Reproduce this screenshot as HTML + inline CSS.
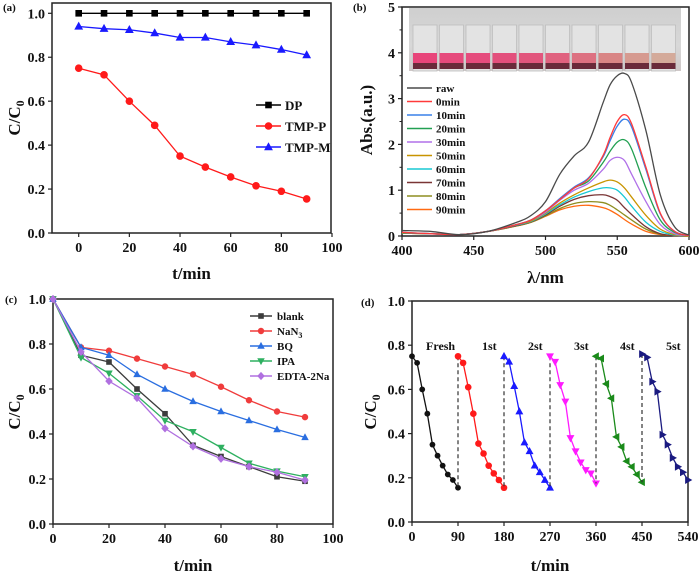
<!DOCTYPE html>
<html><head><meta charset="utf-8"><style>
html,body{margin:0;padding:0;background:#fff;}
svg{display:block;font-family:"Liberation Serif",serif;font-weight:bold;}
</style></head><body>
<svg id="fig" width="700" height="577" viewBox="0 0 700 577">
<defs>
<linearGradient id="photoBg" x1="0" y1="0" x2="0" y2="1">
<stop offset="0" stop-color="#cfcfcf"/><stop offset="0.6" stop-color="#d8d8d8"/><stop offset="1" stop-color="#cfc8c8"/>
</linearGradient>
</defs>
</svg>
<script>
// ---------- data ----------
const aTimes=[0,10,20,30,40,50,60,70,80,90];
const aDP=[1,1,1,1,1,1,1,1,1,1];
const aTMPP=[0.75,0.72,0.60,0.49,0.35,0.30,0.255,0.215,0.19,0.155];
const aTMPM=[0.94,0.93,0.925,0.91,0.89,0.89,0.87,0.855,0.835,0.81];
const aXTicks=[0,20,40,60,80,100];
const yTicks01=[0,0.2,0.4,0.6,0.8,1.0];

const bWave=[400,420,440,460,480,490,500,510,520,530,540,545,550,555,560,570,580,590,600];
const bRaw=[0.12,0.1,0.03,0.1,0.3,0.45,0.75,1.35,1.75,2.05,2.9,3.3,3.5,3.55,3.35,2.3,0.9,0.2,0.02];
const b0=[0.08,0.05,0.03,0.1,0.25,0.35,0.55,0.8,1.05,1.25,1.75,2.15,2.5,2.65,2.45,1.5,0.5,0.1,0.01];
const b10=[0.08,0.05,0.03,0.1,0.25,0.35,0.55,0.82,1.07,1.27,1.72,2.08,2.4,2.55,2.38,1.45,0.48,0.1,0.01];
const b20=[0.07,0.05,0.03,0.1,0.25,0.35,0.55,0.8,1.05,1.2,1.6,1.85,2.05,2.1,1.9,1.05,0.35,0.08,0.01];
const b30=[0.07,0.05,0.03,0.1,0.25,0.35,0.52,0.78,1.0,1.15,1.45,1.65,1.72,1.65,1.35,0.75,0.25,0.05,0.01];
const b50=[0.06,0.05,0.03,0.1,0.25,0.33,0.5,0.72,0.9,1.05,1.18,1.22,1.18,1.05,0.85,0.45,0.15,0.03,0];
const b60=[0.06,0.05,0.03,0.1,0.24,0.32,0.48,0.68,0.85,0.97,1.05,1.05,1.0,0.85,0.65,0.3,0.1,0.02,0];
const b70=[0.06,0.05,0.03,0.1,0.23,0.31,0.46,0.65,0.8,0.88,0.9,0.86,0.78,0.62,0.47,0.2,0.05,0.01,0];
const b80=[0.06,0.05,0.03,0.1,0.22,0.3,0.44,0.6,0.71,0.75,0.73,0.67,0.57,0.46,0.35,0.15,0.04,0.01,0];
const b90=[0.06,0.05,0.03,0.1,0.22,0.3,0.43,0.57,0.65,0.67,0.62,0.56,0.47,0.36,0.26,0.1,0.03,0.01,0];
const bXTicks=[400,450,500,550,600];
const bYTicks=[0,1,2,3,4,5];

const cTimes=[0,10,20,30,40,50,60,70,80,90];
const cBlank=[1,0.75,0.72,0.60,0.49,0.35,0.30,0.255,0.21,0.19];
const cNaN3=[1,0.785,0.77,0.735,0.70,0.665,0.61,0.55,0.50,0.475];
const cBQ=[1,0.785,0.75,0.665,0.60,0.545,0.50,0.46,0.42,0.385];
const cIPA=[1,0.74,0.67,0.57,0.46,0.41,0.34,0.27,0.235,0.21];
const cEDTA=[1,0.765,0.635,0.56,0.425,0.345,0.29,0.255,0.23,0.195];

const dStep=[0,10,20,30,40,50,60,70,80,90];
const dFresh=[0.75,0.72,0.60,0.49,0.35,0.30,0.255,0.215,0.19,0.155];
const d1st=[0.75,0.72,0.61,0.49,0.355,0.31,0.255,0.22,0.19,0.155];
const d2st=[0.75,0.725,0.615,0.50,0.36,0.32,0.255,0.225,0.19,0.155];
const d3st=[0.75,0.725,0.62,0.545,0.38,0.32,0.27,0.235,0.22,0.175];
const d4st=[0.75,0.74,0.625,0.56,0.385,0.34,0.275,0.25,0.215,0.18];
const d5st=[0.76,0.745,0.635,0.59,0.395,0.35,0.29,0.25,0.225,0.19];
const dXTicks=[0,90,180,270,360,450,540];

// ---------- helpers ----------
const NS='http://www.w3.org/2000/svg';
const svg=document.getElementById('fig');
function el(tag,attrs,parent,text){const e=document.createElementNS(NS,tag);for(const k in attrs)e.setAttribute(k,attrs[k]);if(text!==undefined)e.textContent=text;(parent||svg).appendChild(e);return e;}
function scale(d0,d1,p0,p1){return v=>p0+(v-d0)/(d1-d0)*(p1-p0);}

function axes(g,box,xs,ys,xt,yt,xfmt,yfmt,xlabel,ylabelNode,name){
  const ax=el('g',{},g);
  
  
  el('rect',{x:box.l,y:box.t,width:box.r-box.l,height:box.b-box.t,fill:'none',stroke:'#222','stroke-width':1.5},ax);
  xt.forEach(v=>{const x=xs(v);
    el('line',{x1:x,y1:box.b,x2:x,y2:box.b+4,stroke:'#222','stroke-width':1.2},ax);
    const t=el('text',{x:x,y:box.b+19,'text-anchor':'middle','font-size':14,fill:'#111'},ax,xfmt(v));
    });
  yt.forEach(v=>{const y=ys(v);
    el('line',{x1:box.l-4,y1:y,x2:box.l,y2:y,stroke:'#222','stroke-width':1.2},ax);
    const t=el('text',{x:box.l-7,y:y+5,'text-anchor':'end','font-size':14,fill:'#111'},ax,yfmt(v));
    });
  const xl=el('text',{x:(box.l+box.r)/2,y:xlabel.y,'text-anchor':'middle','font-size':17,fill:'#111'},ax,xlabel.text);
  
}
function yTitleCC0(g,x,y){
  const t=el('text',{transform:`translate(${x},${y}) rotate(-90)`,'text-anchor':'middle','font-size':17,fill:'#111'},g);
  
  el('tspan',{},t,'C/C');el('tspan',{'font-size':12,dy:4},t,'0');
}
function marker(g,type,x,y,c,s){
  let m;
  if(type==='square')m=el('rect',{x:x-s,y:y-s,width:2*s,height:2*s,fill:c},g);
  else if(type==='circle')m=el('circle',{cx:x,cy:y,r:s,fill:c},g);
  else if(type==='up')m=el('polygon',{points:`${x},${y-s*1.2} ${x-s*1.1},${y+s*0.8} ${x+s*1.1},${y+s*0.8}`,fill:c},g);
  else if(type==='down')m=el('polygon',{points:`${x},${y+s*1.2} ${x-s*1.1},${y-s*0.8} ${x+s*1.1},${y-s*0.8}`,fill:c},g);
  else if(type==='left')m=el('polygon',{points:`${x-s*1.2},${y} ${x+s*0.8},${y-s*1.1} ${x+s*0.8},${y+s*1.1}`,fill:c},g);
  else if(type==='right')m=el('polygon',{points:`${x+s*1.2},${y} ${x-s*0.8},${y-s*1.1} ${x-s*0.8},${y+s*1.1}`,fill:c},g);
  else if(type==='diamond')m=el('polygon',{points:`${x},${y-s*1.2} ${x+s*1.1},${y} ${x},${y+s*1.2} ${x-s*1.1},${y}`,fill:c},g);
  
  
  return m;
}
function series(g,xsArr,ysArr,xs,ys,c,type,s,name,w){
  const sg=el('g',{},g);
  
  
  const pts=xsArr.map((v,i)=>xs(v)+','+ys(ysArr[i])).join(' ');
  el('polyline',{points:pts,fill:'none',stroke:c,'stroke-width':w||1.3},sg);
  xsArr.forEach((v,i)=>marker(sg,type,xs(v),ys(ysArr[i]),c,s));
}
function panelLabel(g,x,y,txt){const t=el('text',{x:x,y:y,'font-size':11,fill:'#111'},g,txt);}
const f1=v=>v.toFixed(1), f0=v=>String(v);

// ---------- panel a ----------
(function(){
  const g=el('g',{});
  const box={l:52,r:331,t:3,b:233};
  const xs=scale(0,100,78.7,332), ys=scale(0,1,233,13.3);
  axes(g,box,xs,ys,aXTicks,yTicks01,f0,f1,{text:'t/min',y:279},null,'panel-a');
  yTitleCC0(g,20,118);
  panelLabel(g,3,11,'(a)');
  series(g,aTimes,aDP,xs,ys,'#000','square',3.3,'series-dp');
  series(g,aTimes,aTMPP,xs,ys,'#ff1a1a','circle',3.8,'series-tmp-p');
  series(g,aTimes,aTMPM,xs,ys,'#1a1aff','up',4,'series-tmp-m');
  const lg=el('g',{},g);
  [['DP','#000','square',3.3],['TMP-P','#ff1a1a','circle',3.8],['TMP-M','#1a1aff','up',4]].forEach((r,i)=>{
    const y=105+i*21;
    const e=el('g',{},lg);
    el('line',{x1:256,y1:y,x2:281,y2:y,stroke:r[1],'stroke-width':1.5},e);
    marker(e,r[2],268.5,y,r[1],r[3]);
    el('text',{x:285,y:y+5,'font-size':13,fill:'#111'},e,r[0]);
  });
})();

// ---------- panel b ----------
(function(){
  const g=el('g',{});
  const box={l:402,r:689,t:7,b:236};
  const xs=scale(400,600,402,689), ys=scale(0,5,236,7);
  // photo
  const ph=el('g',{},g);
  el('rect',{x:409,y:8,width:272,height:63,fill:'url(#photoBg)'},ph);
  const pinks=['#e8457a','#e64a7c','#e54c7d','#e34f7c','#e2567d','#e0627f','#dd7181','#d98585','#d69a90','#d4aa9a'];
  pinks.forEach((c,i)=>{const x=413+i*26.5;
    el('rect',{x:x,y:25,width:24,height:46,fill:'#e3e3e3',stroke:'#bdbdbd','stroke-width':0.8},ph);
    el('rect',{x:x,y:53,width:24,height:10,fill:c},ph);
    el('rect',{x:x,y:63,width:24,height:6,fill:'#6a2a3a'},ph);});
  axes(g,box,xs,ys,bXTicks,bYTicks,f0,f0,{text:'λ/nm',y:283},null,'panel-b');
  // minor y ticks
  [0.5,1.5,2.5,3.5,4.5].forEach(v=>el('line',{x1:box.l-2.5,y1:ys(v),x2:box.l,y2:ys(v),stroke:'#222'},g));
  const yt=el('text',{transform:'translate(372,120) rotate(-90)','text-anchor':'middle','font-size':17,fill:'#111'},g,'Abs.(a.u.)');
  
  panelLabel(g,353,11,'(b)');
  const specs=[['raw',bRaw,'#4a4a4a'],['0min',b0,'#ff3a3a'],['10min',b10,'#3a80e8'],['20min',b20,'#22a052'],['30min',b30,'#b070e8'],['50min',b50,'#c89400'],['60min',b60,'#18c8d4'],['70min',b70,'#7a3535'],['80min',b80,'#8e8e20'],['90min',b90,'#ff6a12']];
  function smooth(xsA,ysA){const p=xsA.map((v,i)=>[xs(v),ys(ysA[i])]);let d='M'+p[0][0]+','+p[0][1];
    for(let i=0;i<p.length-1;i++){const p0=p[i-1]||p[i],p1=p[i],p2=p[i+1],p3=p[i+2]||p2;
      d+=` C${p1[0]+(p2[0]-p0[0])/6},${p1[1]+(p2[1]-p0[1])/6} ${p2[0]-(p3[0]-p1[0])/6},${p2[1]-(p3[1]-p1[1])/6} ${p2[0]},${p2[1]}`;}return d;}
  specs.slice().reverse().forEach(s=>{const p=el('path',{d:smooth(bWave,s[1]),fill:'none',stroke:s[2],'stroke-width':1.3},g);
    });
  const lg=el('g',{},g);
  specs.forEach((s,i)=>{const y=88+i*13.5;
    const e=el('g',{},lg);
    el('line',{x1:407,y1:y,x2:432,y2:y,stroke:s[2],'stroke-width':1.6},e);
    el('text',{x:436,y:y+4,'font-size':11,fill:'#111'},e,s[0]);});
})();

// ---------- panel c ----------
(function(){
  const g=el('g',{});
  const box={l:53,r:333,t:299,b:524};
  const xs=scale(0,100,53,333), ys=scale(0,1,524,299);
  axes(g,box,xs,ys,aXTicks,yTicks01,f0,f1,{text:'t/min',y:571},null,'panel-c');
  yTitleCC0(g,20,412);
  panelLabel(g,5,303,'(c)');
  const S=[['blank',cBlank,'#3c3c3c','square',2.8],['NaN3',cNaN3,'#f03c3c','circle',3.2],['BQ',cBQ,'#2a6ee0','up',3.4],['IPA',cIPA,'#2eb060','down',3.4],['EDTA-2Na',cEDTA,'#b070e0','diamond',3.4]];
  S.forEach(s=>series(g,cTimes,s[1],xs,ys,s[2],s[3],s[4],'series-'+s[0].toLowerCase()));
  const lg=el('g',{},g);
  S.forEach((s,i)=>{const y=316+i*15;
    const e=el('g',{},lg);
    el('line',{x1:250,y1:y,x2:272,y2:y,stroke:s[2],'stroke-width':1.4},e);
    marker(e,s[3],261,y,s[2],s[4]);
    const t=el('text',{x:277,y:y+4,'font-size':11,fill:'#111'},e);
    if(s[0]==='NaN3'){el('tspan',{},t,'NaN');el('tspan',{'font-size':8,dy:3},t,'3');}else t.textContent=s[0];});
})();

// ---------- panel d ----------
(function(){
  const g=el('g',{});
  const box={l:412,r:688,t:301,b:522};
  const xs=scale(0,540,412,688), ys=scale(0,1,522,301);
  axes(g,box,xs,ys,dXTicks,yTicks01,f0,f1,{text:'t/min',y:571},null,'panel-d');
  yTitleCC0(g,376,412);
  panelLabel(g,361,306,'(d)');
  const S=[['Fresh',dFresh,'#111','circle',2.9],['1st',d1st,'#ff1a1a','circle',3.3],['2st',d2st,'#1a1aff','up',3.6],['3st',d3st,'#ff1aff','down',3.6],['4st',d4st,'#1a8a1a','left',3.6],['5st',d5st,'#1a1a80','right',3.6]];
  S.forEach((s,k)=>{const off=k*90;const tx=dStep.map(v=>v+off);
    if(k>0){const dl=el('line',{x1:xs(off),y1:ys(s[1][0]),x2:xs(off),y2:ys(S[k-1][1][9]),stroke:'#333','stroke-width':1.2,'stroke-dasharray':'4,3'},g);
      }
    series(g,tx,s[1],xs,ys,s[2],s[3],s[4],'cycle-'+s[0].toLowerCase());
    const lb=el('text',{x:xs(off)+(k===0?14:24),y:350,'font-size':12,fill:'#111'},g,s[0]);
    });
})();
</script>
</body></html>
